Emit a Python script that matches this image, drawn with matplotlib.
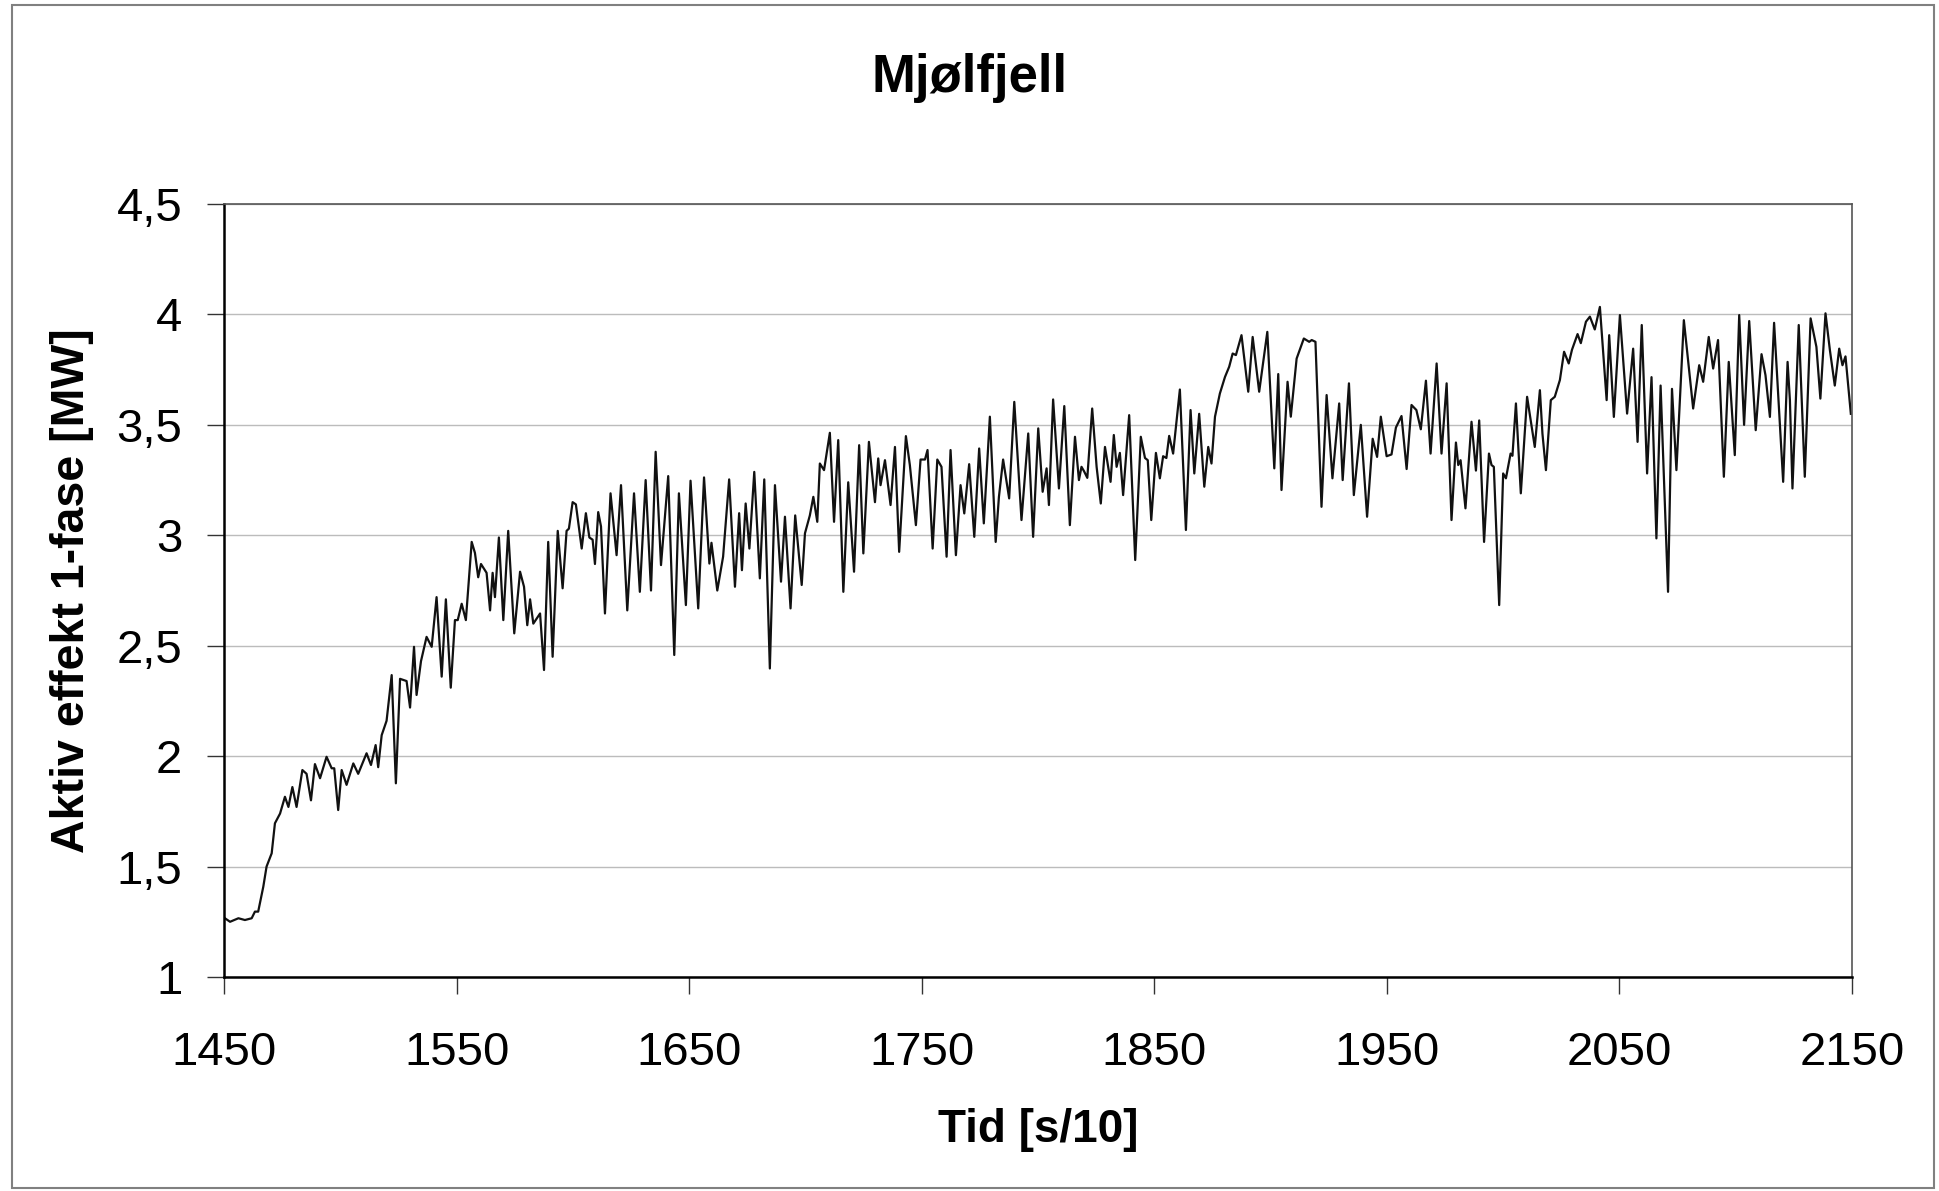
import matplotlib
matplotlib.use('Agg')
import matplotlib.pyplot as plt
from matplotlib.patches import Rectangle

# Tid [s/10] and aktiv effekt [MW] (peaks and dips)
tid = [
    1450.4, 1452.6, 1456.2, 1459.0, 1461.9, 1463.3, 1464.7, 1466.9, 1468.3, 1470.5,
    1471.9, 1474.1, 1476.2, 1477.7, 1479.4, 1481.2, 1483.7, 1485.5, 1487.4, 1489.1,
    1491.3, 1494.1, 1496.3, 1497.4, 1499.1, 1500.6, 1502.7, 1505.6, 1507.7, 1511.3,
    1513.2, 1515.2, 1516.3, 1517.8, 1519.9, 1522.1, 1523.9, 1525.7, 1528.5, 1530.0,
    1531.7, 1532.8, 1534.7, 1537.1, 1539.3, 1541.4, 1543.6, 1545.4, 1547.5, 1549.3,
    1550.5, 1552.2, 1554.0, 1556.5, 1557.9, 1559.3, 1560.5, 1562.9, 1564.4, 1565.5,
    1566.5, 1568.2, 1570.1, 1572.2, 1574.8, 1577.3, 1579.0, 1580.4, 1581.6, 1583.0,
    1585.9, 1587.6, 1589.4, 1591.3, 1593.5, 1595.6, 1597.3, 1598.3, 1599.9, 1601.3,
    1603.8, 1605.6, 1607.1, 1608.5, 1609.5, 1610.9, 1612.1, 1613.8, 1616.2, 1618.8,
    1620.7, 1623.4, 1626.3, 1628.8, 1631.3, 1633.6, 1635.6, 1637.9, 1641.0, 1643.6,
    1645.6, 1648.6, 1650.6, 1653.9, 1656.4, 1658.7, 1659.6, 1662.1, 1664.6, 1667.2,
    1669.7, 1671.5, 1672.7, 1674.3, 1675.9, 1678.0, 1680.4, 1682.3, 1684.7, 1686.9,
    1689.5, 1691.2, 1693.6, 1695.6, 1698.4, 1699.8, 1701.9, 1703.4, 1705.1, 1706.2,
    1708.0, 1710.5, 1712.3, 1714.1, 1716.3, 1718.4, 1720.9, 1723.1, 1724.9, 1727.3,
    1729.9, 1731.3, 1732.3, 1734.2, 1736.6, 1738.5, 1740.3, 1743.2, 1744.9, 1747.5,
    1749.5, 1751.4, 1752.5, 1754.7, 1756.7, 1758.5, 1760.7, 1762.4, 1764.7, 1766.7,
    1768.3, 1770.4, 1772.6, 1774.7, 1776.7, 1779.3, 1781.8, 1783.2, 1785.0, 1787.6,
    1789.8, 1792.9, 1795.8, 1797.9, 1800.1, 1802.0, 1803.7, 1804.7, 1806.5, 1809.0,
    1811.3, 1813.7, 1815.9, 1817.6, 1818.7, 1819.8, 1821.2, 1823.3, 1825.2, 1827.0,
    1828.8, 1831.2, 1832.6, 1833.8, 1835.2, 1836.6, 1839.2, 1841.8, 1844.2, 1846.0,
    1847.2, 1848.7, 1850.7, 1852.4, 1853.8, 1855.2, 1856.4, 1858.1, 1861.0, 1863.6,
    1865.6, 1867.2, 1869.3, 1871.5, 1873.2, 1874.6, 1876.1, 1878.2, 1880.4, 1882.2,
    1883.7, 1885.1, 1887.5, 1890.4, 1892.3, 1895.1, 1898.6, 1901.6, 1903.3, 1904.7,
    1907.3, 1908.7, 1911.2, 1914.3, 1916.6, 1917.7, 1919.3, 1921.9, 1924.1, 1926.6,
    1929.5, 1931.0, 1933.7, 1935.8, 1938.8, 1941.5, 1943.9, 1945.8, 1947.4, 1949.9,
    1952.0, 1953.9, 1956.3, 1958.5, 1960.6, 1962.7, 1964.6, 1966.8, 1968.8, 1971.4,
    1973.5, 1975.7, 1977.8, 1979.7, 1980.7, 1981.7, 1983.8, 1986.4, 1988.3, 1989.7,
    1991.8, 1993.9, 1995.0, 1996.0, 1998.3, 2000.0, 2001.2, 2003.2, 2004.0, 2005.5,
    2007.6, 2010.3, 2013.6, 2015.8, 2016.9, 2018.4, 2020.5, 2022.2, 2024.4, 2026.2,
    2028.2, 2029.6, 2032.0, 2033.4, 2035.6, 2037.3, 2039.4, 2041.6, 2044.5, 2045.6,
    2047.6, 2050.2, 2053.3, 2055.9, 2057.8, 2059.6, 2061.9, 2063.8, 2065.9, 2067.7,
    2070.9, 2072.6, 2074.5, 2077.7, 2081.7, 2084.3, 2086.0, 2088.4, 2090.3, 2092.4,
    2094.9, 2097.0, 2099.6, 2101.5, 2103.6, 2105.8, 2108.6, 2111.1, 2112.8, 2114.7,
    2116.5, 2120.4, 2122.3, 2123.3, 2124.4, 2127.1, 2129.7, 2132.2, 2134.7, 2136.4,
    2138.6, 2140.5, 2142.6, 2144.5, 2145.9, 2147.2, 2149.5,
]
effekt = [
    1.266, 1.250, 1.266, 1.258, 1.266, 1.296, 1.296, 1.409, 1.500, 1.560,
    1.696, 1.740, 1.816, 1.770, 1.860, 1.770, 1.937, 1.920, 1.800, 1.964,
    1.900, 1.997, 1.945, 1.945, 1.756, 1.937, 1.870, 1.967, 1.920, 2.013,
    1.960, 2.050, 1.950, 2.095, 2.160, 2.367, 1.877, 2.350, 2.340, 2.220,
    2.495, 2.277, 2.430, 2.540, 2.495, 2.720, 2.360, 2.710, 2.310, 2.616,
    2.616, 2.690, 2.616, 2.970, 2.920, 2.810, 2.870, 2.830, 2.660, 2.830,
    2.720, 2.990, 2.616, 3.020, 2.556, 2.835, 2.767, 2.593, 2.710, 2.600,
    2.646, 2.390, 2.970, 2.450, 3.020, 2.760, 3.020, 3.030, 3.150, 3.140,
    2.940, 3.100, 2.990, 2.980, 2.870, 3.105, 3.040, 2.646, 3.190, 2.910,
    3.227, 2.660, 3.190, 2.744, 3.250, 2.750, 3.378, 2.865, 3.268, 2.458,
    3.190, 2.684, 3.247, 2.669, 3.262, 2.872, 2.966, 2.750, 2.903, 3.253,
    2.767, 3.100, 2.842, 3.144, 2.940, 3.287, 2.805, 3.253, 2.397, 3.227,
    2.790, 3.084, 2.669, 3.090, 2.775, 3.009, 3.090, 3.174, 3.061, 3.325,
    3.295, 3.464, 3.061, 3.431, 2.744, 3.240, 2.835, 3.408, 2.918, 3.423,
    3.150, 3.348, 3.227, 3.340, 3.137, 3.400, 2.925, 3.449, 3.318, 3.046,
    3.343, 3.343, 3.386, 2.940, 3.343, 3.310, 2.903, 3.386, 2.910, 3.227,
    3.099, 3.322, 2.993, 3.393, 3.054, 3.537, 2.970, 3.174, 3.343, 3.167,
    3.604, 3.069, 3.461, 2.993, 3.484, 3.197, 3.303, 3.137, 3.615, 3.212,
    3.585, 3.046, 3.446, 3.250, 3.310, 3.290, 3.260, 3.574, 3.310, 3.144,
    3.400, 3.242, 3.454, 3.310, 3.373, 3.182, 3.544, 2.888, 3.446, 3.350,
    3.340, 3.069, 3.373, 3.258, 3.358, 3.350, 3.450, 3.370, 3.660, 3.024,
    3.567, 3.280, 3.550, 3.220, 3.400, 3.325, 3.537, 3.642, 3.717, 3.763,
    3.823, 3.816, 3.906, 3.650, 3.898, 3.650, 3.921, 3.303, 3.730, 3.205,
    3.695, 3.537, 3.800, 3.891, 3.876, 3.884, 3.876, 3.129, 3.635, 3.258,
    3.597, 3.250, 3.688, 3.182, 3.500, 3.084, 3.437, 3.355, 3.537, 3.358,
    3.366, 3.488, 3.540, 3.300, 3.590, 3.567, 3.480, 3.700, 3.370, 3.778,
    3.370, 3.688, 3.069, 3.420, 3.318, 3.340, 3.122, 3.514, 3.293, 3.520,
    2.970, 3.370, 3.318, 3.310, 2.684, 3.280, 3.258, 3.370, 3.360, 3.597,
    3.190, 3.627, 3.400, 3.657, 3.460, 3.295, 3.612, 3.627, 3.703, 3.831,
    3.778, 3.840, 3.911, 3.870, 3.967, 3.990, 3.932, 4.034, 3.612, 3.906,
    3.536, 3.997, 3.551, 3.845, 3.423, 3.952, 3.280, 3.716, 2.986, 3.678,
    2.744, 3.663, 3.295, 3.974, 3.574, 3.770, 3.695, 3.898, 3.755, 3.884,
    3.265, 3.785, 3.363, 3.997, 3.500, 3.970, 3.476, 3.820, 3.725, 3.536,
    3.962, 3.242, 3.785, 3.612, 3.212, 3.952, 3.265, 3.982, 3.853, 3.619,
    4.005, 3.838, 3.678, 3.845, 3.770, 3.810, 3.550,
]

x_ticks = [1450, 1550, 1650, 1750, 1850, 1950, 2050, 2150]
y_ticks = [1, 1.5, 2, 2.5, 3, 3.5, 4, 4.5]
y_labels = ['1', '1,5', '2', '2,5', '3', '3,5', '4', '4,5']

plt.rcParams['font.family'] = ['Liberation Sans', 'DejaVu Sans']

W, H = 1940, 1191
fig = plt.figure(figsize=(W / 100, H / 100), dpi=100)
ax = fig.add_axes([224 / W, 1 - 977 / H, 1628 / W, 773 / H])

ax.plot(tid, effekt, color='#111111', lw=1.6, solid_joinstyle='round')

ax.set_xlim(1450, 2150)
ax.set_ylim(1, 4.5)
ax.set_xticks(x_ticks)
ax.set_xticklabels([str(t) for t in x_ticks])
ax.set_yticks(y_ticks)
ax.set_yticklabels(y_labels)
ax.tick_params(axis='both', labelsize=34, direction='out', length=12, width=1, color='#333333')
ax.tick_params(axis='x', pad=27)
ax.tick_params(axis='y', pad=18)

ax.grid(axis='y', color='#bcbcbc', lw=1)
ax.set_axisbelow(True)

for side in ['left', 'bottom']:
    ax.spines[side].set_color('black')
    ax.spines[side].set_linewidth(1.8)
for side in ['top', 'right']:
    ax.spines[side].set_color('#555555')
    ax.spines[side].set_linewidth(1.2)

ax.set_xlabel('Tid [s/10]', fontsize=33, fontweight='bold', va='center')
ax.xaxis.set_label_coords(0.5, (977 - 1130) / 773)
ax.set_ylabel('Aktiv effekt 1-fase [MW]', fontsize=33.5, fontweight='bold', va='center')
ax.yaxis.set_label_coords((72 - 224) / 1628, 0.5)

fig.text(0.5, 1 - 92 / H, 'Mjølfjell', ha='center', va='baseline',
         fontsize=38, fontweight='bold')

# outer chart frame
fig.patches.append(Rectangle((12 / W, 1 - 1188 / H), (1934 - 12) / W, (1188 - 5) / H,
                             transform=fig.transFigure, fill=False,
                             edgecolor='#808080', lw=1.5))

fig.savefig('out.png', dpi=100)
